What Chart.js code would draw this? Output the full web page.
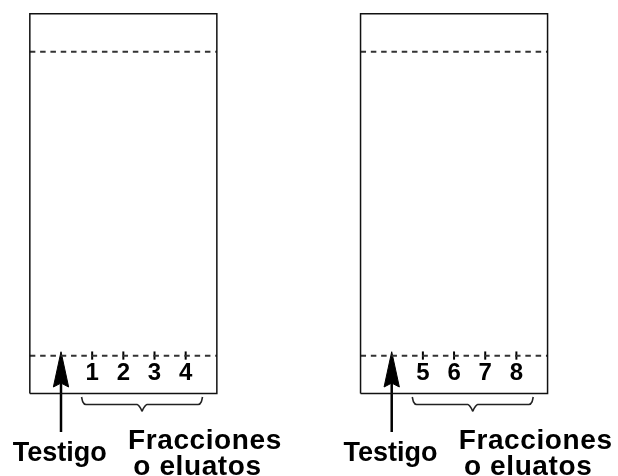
<!DOCTYPE html>
<html><head><meta charset="utf-8">
<script src="https://cdn.jsdelivr.net/npm/chart.js@4"></script>
<style>html,body{margin:0;padding:0;background:#fff}canvas{display:block}</style>
</head><body>
<canvas id="c" width="618" height="476"></canvas>
<script>
// ---- content ----
const fractionLabels = [['1', '2', '3', '4'], ['5', '6', '7', '8']];
const controlLabel = 'Testigo';
const groupLabel = ['Fracciones', 'o eluatos'];
const originRf = 0;     // application (origin) line
const frontRf = 1;      // solvent front

// ---- layout (lane units on x, Rf units on y) ----
const plateShift = [0, 10.61];
const lanePos = [1, 2, 3, 4];
const plateLeft = -1, plateRight = 5, plateBottom = -0.124, plateTop = 1.125;
const braceShape = [[0.66, -0.136], [0.7, -0.152], [0.8, -0.1605], [2.44, -0.1605], [2.56, -0.174], [2.6, -0.182], [2.64, -0.174], [2.76, -0.1605], [4.4, -0.1605], [4.5, -0.152], [4.54, -0.136]];

const datasets = [];
function line(pts, opts) {
  datasets.push(Object.assign({
    data: pts, showLine: true, pointRadius: 0, pointHoverRadius: 0,
    borderColor: '#111', borderWidth: 1.5, fill: false, clip: false, tension: 0,
    borderJoinStyle: 'miter'
  }, opts || {}));
}

plateShift.forEach((s, p) => {
  // plate outline
  line([{x: s + plateLeft, y: plateBottom}, {x: s + plateRight, y: plateBottom},
        {x: s + plateRight, y: plateTop}, {x: s + plateLeft, y: plateTop},
        {x: s + plateLeft, y: plateBottom}]);
  // solvent front & origin (dashed)
  line([{x: s + plateLeft, y: frontRf}, {x: s + plateRight, y: frontRf}],
       {borderDash: [5.5, 4.8], borderColor: '#333', borderWidth: 2});
  line([{x: s + plateLeft, y: originRf}, {x: s + plateRight, y: originRf}],
       {borderDash: [5.5, 4.8], borderColor: '#333', borderWidth: 2});
  // application marks
  fractionLabels[p].forEach((lab, i) => {
    line([{x: s + lanePos[i], y: originRf - 0.013}, {x: s + lanePos[i], y: originRf + 0.014}],
         {borderWidth: 2, borderColor: '#000'});
  });
  // arrow (control)
  line([{x: s, y: -0.251}, {x: s, y: -0.08}], {borderWidth: 2.5, borderColor: '#000'});
  line([{x: s, y: originRf + 0.013}, {x: s + 0.245, y: -0.103}, {x: s, y: -0.09},
        {x: s - 0.245, y: -0.103}, {x: s, y: originRf + 0.013}],
       {fill: 'shape', backgroundColor: '#000', borderColor: '#000', borderWidth: 1});
  // brace
  line(braceShape.map(([bx, by]) => ({x: s + bx, y: by})),
       {cubicInterpolationMode: 'monotone', borderWidth: 1.6, borderColor: '#222', borderJoinStyle: 'round'});
});

const textPlugin = {
  id: 'plateText',
  afterDatasetsDraw(chart) {
    const {ctx, scales: {x, y}} = chart;
    ctx.save();
    ctx.fillStyle = '#000';
    ctx.textBaseline = 'alphabetic';
    plateShift.forEach((s, p) => {
      ctx.font = 'bold 24px "Liberation Sans", Arial, sans-serif';
      ctx.textAlign = 'center';
      fractionLabels[p].forEach((lab, i) => {
        ctx.fillText(lab, x.getPixelForValue(s + lanePos[i]), y.getPixelForValue(-0.081));
      });
      ctx.font = 'bold 27px "Liberation Sans", Arial, sans-serif';
      ctx.fillText(controlLabel, x.getPixelForValue(s - 0.04), y.getPixelForValue(-0.3464));
      ctx.textAlign = 'left';
      ctx.font = 'bold 28px "Liberation Sans", Arial, sans-serif';
      if ('letterSpacing' in ctx) ctx.letterSpacing = '0.6px';
      ctx.fillText(groupLabel[0], x.getPixelForValue(s + 2.15), y.getPixelForValue(-0.307));
      ctx.fillText(groupLabel[1], x.getPixelForValue(s + 2.32), y.getPixelForValue(-0.394));
      if ('letterSpacing' in ctx) ctx.letterSpacing = '0px';
    });
    ctx.restore();
  }
};

new Chart(document.getElementById('c'), {
  type: 'scatter',
  data: {datasets},
  options: {
    responsive: false,
    animation: false,
    devicePixelRatio: 1,
    layout: {padding: 0},
    plugins: {legend: {display: false}, tooltip: {enabled: false}},
    events: [],
    scales: {
      x: {type: 'linear', display: false, min: -61 / 31.17, max: (618 - 61) / 31.17},
      y: {type: 'linear', display: false, min: (355.7 - 476) / 304, max: 355.7 / 304}
    }
  },
  plugins: [textPlugin]
});
</script>
</body></html>
